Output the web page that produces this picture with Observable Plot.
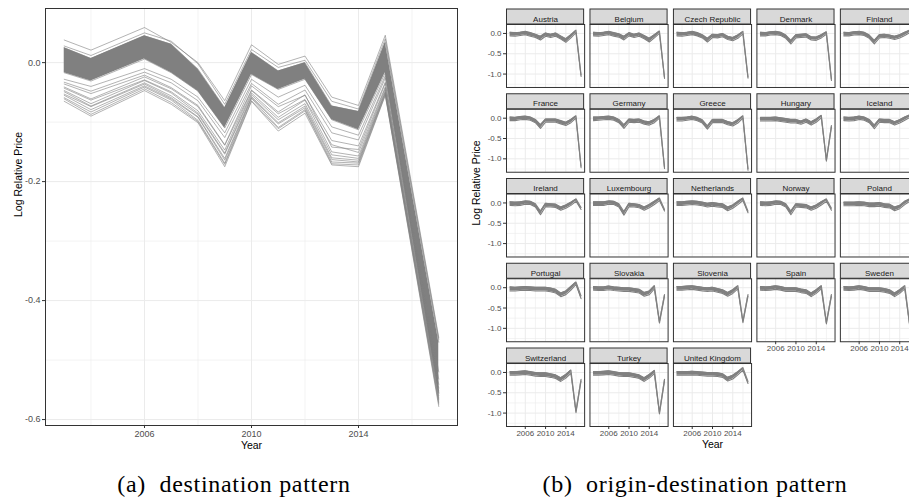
<!DOCTYPE html>
<html><head><meta charset="utf-8">
<script src="https://cdn.jsdelivr.net/npm/d3@7"></script>
<script src="https://cdn.jsdelivr.net/npm/@observablehq/plot@0.6"></script>
<style>
html,body{margin:0;padding:0;background:#fff;overflow:hidden;}
#wrap{position:relative;width:909px;height:501px;overflow:hidden;background:#fff;}
#left{position:absolute;left:0;top:0;width:460px;}
#right{position:absolute;left:460px;top:0;width:470px;}
#wrap svg{max-width:none !important;}
.cap{position:absolute;font-family:"Liberation Serif","Times New Roman",serif;font-size:24px;letter-spacing:0.7px;white-space:nowrap;transform:translateX(-50%);color:#000;line-height:26px;}
</style></head><body>
<div id="wrap"><div id="left"></div><div id="right"></div>
<div class="cap" style="left:234px;top:471px">(a)&nbsp; destination pattern</div>
<div class="cap" style="left:695px;top:471px">(b)&nbsp; origin-destination pattern</div>
</div>
<script>
// ---------- (a) destination pattern ----------
const destYears = [2003, 2004, 2006, 2007, 2008, 2009, 2010, 2011, 2012, 2013, 2014, 2015, 2017];
const destBandUpper = [0.025, 0.007, 0.045, 0.031, -0.011, -0.076, 0.017, -0.014, 0.000, -0.073, -0.082, 0.034, -0.470];
const destBandLower = [-0.017, -0.031, 0.006, -0.017, -0.048, -0.110, -0.020, -0.045, -0.028, -0.096, -0.113, -0.017, -0.555];
const destLines = [
  [0.038, 0.021, 0.059, 0.034, 0.000, -0.064, 0.030, -0.003, 0.011, -0.058, -0.072, 0.046, -0.462],
  [0.028, 0.012, 0.050, 0.036, -0.002, -0.070, 0.022, -0.008, 0.004, -0.065, -0.078, 0.040, -0.465],
  [-0.028, -0.040, -0.010, -0.028, -0.058, -0.118, -0.028, -0.058, -0.038, -0.108, -0.122, -0.022, -0.520],
  [-0.033, -0.048, -0.016, -0.034, -0.064, -0.126, -0.035, -0.070, -0.046, -0.118, -0.130, -0.026, -0.532],
  [-0.036, -0.052, -0.021, -0.042, -0.072, -0.138, -0.039, -0.074, -0.055, -0.131, -0.140, -0.033, -0.541],
  [-0.041, -0.061, -0.024, -0.044, -0.074, -0.139, -0.046, -0.083, -0.054, -0.142, -0.146, -0.035, -0.547],
  [-0.043, -0.063, -0.029, -0.049, -0.081, -0.147, -0.047, -0.086, -0.062, -0.138, -0.151, -0.041, -0.552],
  [-0.047, -0.069, -0.030, -0.051, -0.085, -0.152, -0.051, -0.092, -0.063, -0.150, -0.157, -0.043, -0.556],
  [-0.049, -0.073, -0.034, -0.056, -0.087, -0.154, -0.054, -0.096, -0.069, -0.155, -0.161, -0.046, -0.560],
  [-0.053, -0.074, -0.036, -0.059, -0.091, -0.161, -0.057, -0.101, -0.073, -0.160, -0.164, -0.049, -0.564],
  [-0.055, -0.079, -0.039, -0.061, -0.092, -0.164, -0.059, -0.103, -0.076, -0.163, -0.167, -0.050, -0.567],
  [-0.059, -0.083, -0.041, -0.063, -0.097, -0.169, -0.060, -0.109, -0.079, -0.167, -0.169, -0.052, -0.571],
  [-0.061, -0.087, -0.044, -0.067, -0.099, -0.171, -0.064, -0.111, -0.081, -0.170, -0.172, -0.054, -0.574],
  [-0.065, -0.090, -0.047, -0.070, -0.101, -0.175, -0.065, -0.115, -0.085, -0.172, -0.175, -0.055, -0.578]
];
const destXTicks = [2006, 2010, 2014];
const destXMinor = [2004, 2008, 2012, 2016];
const destYTicks = [0, -0.2, -0.4, -0.6];
const destYMinor = [-0.1, -0.3, -0.5];

// ---------- (b) origin-destination pattern ----------
const countries = ["Austria", "Belgium", "Czech Republic", "Denmark", "Finland",
  "France", "Germany", "Greece", "Hungary", "Iceland",
  "Ireland", "Luxembourg", "Netherlands", "Norway", "Poland",
  "Portugal", "Slovakia", "Slovenia", "Spain", "Sweden",
  "Switzerland", "Turkey", "United Kingdom"];
const odYears = [2003, 2004, 2005, 2006, 2007, 2008, 2009, 2010, 2011, 2012, 2013, 2014, 2015, 2016, 2017];
const odUpper = [
  [0.03, 0.02, 0.03, 0.05, 0.02, -0.02, -0.07, 0.01, -0.02, 0.01, -0.06, -0.13, -0.03, 0.08, -1.02],
  [0.03, 0.02, 0.03, 0.05, 0.02, -0.01, -0.07, 0.02, -0.02, 0.01, -0.05, -0.12, -0.03, 0.06, -1.08],
  [0.03, 0.02, 0.03, 0.05, 0.02, -0.03, -0.12, -0.02, -0.03, 0.00, -0.07, -0.10, -0.04, 0.05, -1.07],
  [0.03, 0.02, 0.04, 0.05, 0.03, -0.04, -0.17, -0.03, -0.02, -0.01, -0.08, -0.09, -0.03, 0.04, -1.12],
  [0.03, 0.02, 0.04, 0.05, 0.03, -0.04, -0.17, -0.03, -0.02, -0.04, -0.07, -0.03, 0.03, 0.08, -1.18],
  [0.03, 0.02, 0.04, 0.05, 0.03, -0.03, -0.16, -0.02, -0.02, -0.02, -0.06, -0.10, -0.03, 0.06, -1.18],
  [0.03, 0.03, 0.04, 0.05, 0.03, -0.03, -0.16, -0.02, -0.03, -0.02, -0.07, -0.09, -0.03, 0.06, -1.20],
  [0.02, 0.02, 0.03, 0.05, 0.02, -0.04, -0.19, -0.03, -0.03, -0.03, -0.08, -0.11, -0.04, 0.06, -1.24],
  [0.02, 0.02, 0.02, 0.03, 0.01, -0.01, -0.03, -0.03, -0.07, -0.02, -0.09, -0.02, 0.07, -1.02, -0.18],
  [0.03, 0.02, 0.03, 0.05, 0.03, -0.03, -0.17, -0.02, -0.03, -0.03, -0.09, -0.04, 0.03, 0.08, -1.20],
  [0.03, 0.02, 0.03, 0.05, 0.04, -0.02, -0.20, -0.01, -0.02, -0.03, -0.10, -0.05, 0.02, 0.10, -0.11],
  [0.03, 0.03, 0.03, 0.05, 0.04, -0.02, -0.21, -0.01, -0.02, -0.04, -0.10, -0.04, 0.04, 0.12, -0.16],
  [0.03, 0.03, 0.04, 0.05, 0.04, 0.02, -0.01, 0.01, -0.01, -0.02, -0.10, -0.05, 0.04, 0.12, -0.20],
  [0.03, 0.02, 0.03, 0.05, 0.04, -0.02, -0.20, -0.02, -0.03, -0.04, -0.10, -0.05, 0.03, 0.10, -0.13],
  [0.02, 0.02, 0.02, 0.03, 0.02, 0.00, 0.00, 0.01, -0.02, -0.03, -0.10, -0.06, 0.04, 0.10, -0.18],
  [0.02, 0.01, 0.02, 0.03, 0.02, 0.01, 0.01, 0.01, -0.01, -0.04, -0.13, -0.08, 0.03, 0.14, -0.20],
  [0.03, 0.02, 0.02, 0.04, 0.02, 0.01, 0.00, 0.00, -0.02, -0.04, -0.12, -0.08, 0.05, -0.83, -0.17],
  [0.03, 0.03, 0.04, 0.05, 0.03, 0.01, 0.00, 0.01, -0.02, -0.05, -0.12, -0.05, 0.05, -0.82, -0.17],
  [0.03, 0.02, 0.03, 0.05, 0.03, 0.00, 0.00, 0.00, -0.03, -0.05, -0.13, -0.05, 0.05, -0.85, -0.17],
  [0.03, 0.02, 0.03, 0.05, 0.03, 0.00, 0.00, 0.00, -0.02, -0.05, -0.13, -0.05, 0.05, -0.93, -0.18],
  [0.02, 0.02, 0.03, 0.04, 0.02, 0.00, -0.01, -0.01, -0.03, -0.06, -0.13, -0.05, 0.06, -0.95, -0.17],
  [0.02, 0.02, 0.03, 0.04, 0.02, 0.00, -0.01, -0.01, -0.03, -0.06, -0.13, -0.05, 0.05, -0.98, -0.17],
  [0.02, 0.02, 0.02, 0.03, 0.02, 0.01, 0.00, 0.00, -0.01, -0.03, -0.12, -0.07, 0.02, 0.12, -0.22]
];
const odLower = [
  [-0.06, -0.07, -0.05, -0.03, -0.07, -0.10, -0.16, -0.07, -0.10, -0.07, -0.14, -0.22, -0.11, 0.02, -1.06],
  [-0.06, -0.07, -0.05, -0.03, -0.07, -0.09, -0.16, -0.06, -0.10, -0.07, -0.13, -0.21, -0.11, 0.00, -1.11],
  [-0.06, -0.07, -0.05, -0.03, -0.06, -0.11, -0.21, -0.10, -0.11, -0.08, -0.15, -0.18, -0.12, -0.01, -1.10],
  [-0.06, -0.06, -0.04, -0.03, -0.05, -0.12, -0.26, -0.11, -0.10, -0.09, -0.16, -0.17, -0.11, -0.02, -1.16],
  [-0.06, -0.06, -0.04, -0.03, -0.05, -0.12, -0.26, -0.11, -0.10, -0.12, -0.15, -0.11, -0.05, 0.02, -1.22],
  [-0.06, -0.06, -0.04, -0.03, -0.05, -0.11, -0.25, -0.10, -0.10, -0.10, -0.14, -0.18, -0.11, 0.00, -1.22],
  [-0.06, -0.05, -0.04, -0.03, -0.05, -0.11, -0.25, -0.10, -0.11, -0.10, -0.15, -0.17, -0.11, 0.00, -1.24],
  [-0.07, -0.07, -0.05, -0.03, -0.06, -0.12, -0.27, -0.11, -0.11, -0.11, -0.16, -0.19, -0.12, 0.00, -1.28],
  [-0.07, -0.07, -0.07, -0.06, -0.08, -0.10, -0.12, -0.12, -0.15, -0.10, -0.17, -0.10, 0.01, -1.06, -0.22],
  [-0.06, -0.07, -0.06, -0.03, -0.05, -0.11, -0.26, -0.10, -0.11, -0.11, -0.17, -0.12, -0.05, 0.02, -1.24],
  [-0.06, -0.07, -0.06, -0.03, -0.04, -0.10, -0.29, -0.09, -0.10, -0.11, -0.18, -0.13, -0.06, 0.04, -0.16],
  [-0.06, -0.06, -0.06, -0.03, -0.04, -0.10, -0.30, -0.09, -0.10, -0.12, -0.18, -0.12, -0.04, 0.06, -0.20],
  [-0.06, -0.06, -0.05, -0.04, -0.05, -0.07, -0.10, -0.08, -0.10, -0.11, -0.19, -0.13, -0.04, 0.06, -0.24],
  [-0.06, -0.07, -0.06, -0.03, -0.04, -0.10, -0.29, -0.10, -0.11, -0.12, -0.18, -0.13, -0.05, 0.04, -0.18],
  [-0.07, -0.07, -0.07, -0.06, -0.07, -0.09, -0.09, -0.08, -0.11, -0.12, -0.19, -0.14, -0.04, 0.04, -0.22],
  [-0.08, -0.08, -0.07, -0.06, -0.07, -0.08, -0.08, -0.08, -0.10, -0.13, -0.22, -0.17, -0.06, 0.08, -0.27],
  [-0.06, -0.07, -0.07, -0.05, -0.07, -0.08, -0.09, -0.09, -0.11, -0.13, -0.21, -0.17, -0.03, -0.87, -0.21],
  [-0.06, -0.06, -0.05, -0.04, -0.06, -0.08, -0.09, -0.08, -0.11, -0.14, -0.21, -0.14, -0.03, -0.86, -0.21],
  [-0.06, -0.07, -0.06, -0.04, -0.06, -0.09, -0.09, -0.09, -0.12, -0.14, -0.22, -0.14, -0.03, -0.89, -0.21],
  [-0.06, -0.07, -0.06, -0.04, -0.06, -0.09, -0.09, -0.09, -0.11, -0.14, -0.22, -0.14, -0.03, -0.97, -0.22],
  [-0.07, -0.07, -0.06, -0.05, -0.07, -0.09, -0.10, -0.10, -0.12, -0.15, -0.22, -0.14, -0.02, -0.99, -0.21],
  [-0.07, -0.07, -0.06, -0.05, -0.07, -0.09, -0.10, -0.10, -0.12, -0.15, -0.22, -0.14, -0.03, -1.02, -0.21],
  [-0.07, -0.07, -0.07, -0.06, -0.07, -0.08, -0.09, -0.09, -0.10, -0.12, -0.21, -0.16, -0.06, 0.06, -0.27]
];
const odXTicks = [2006, 2010, 2014];
const odXMinor = [2004, 2008, 2012, 2016];
const odYTicks = [0, -0.5, -1.0];
const odYMinor = [-0.25, -0.75, -1.25];
const facetCols = 5;

// ---------- build tables ----------
const destData = [];
destLines.forEach((vals, i) => vals.forEach((v, j) => destData.push({id: i, year: destYears[j], value: v})));
const destBand = destYears.map((y, j) => ({year: y, lo: destBandLower[j], hi: destBandUpper[j]}));

const odData = [];
countries.forEach((c, i) => odYears.forEach((y, j) => odData.push({
  country: c, col: i % facetCols, row: Math.floor(i / facetCols), year: y, hi: odUpper[i][j], lo: odLower[i][j]
})));
const strips = countries.map((c, i) => ({country: c, col: i % facetCols, row: Math.floor(i / facetCols)}));

const GRID = "#ebebeb", LINE = "#808080", BORDER = "#333333", TICKTXT = "#4d4d4d";
const fmt1 = d => d.toFixed(1);
const font = "'Liberation Sans', Arial, Helvetica, sans-serif";

// ---------- left plot ----------
const destX = [2002.3, 2017.7], destY = [-0.61, 0.091];
const left = Plot.plot({
  width: 460, height: 455,
  marginLeft: 45, marginRight: 3, marginTop: 8, marginBottom: 30,
  style: {fontFamily: font, fontSize: "9px", color: TICKTXT, background: "white", overflow: "visible", maxWidth: "none"},
  x: {domain: destX},
  y: {domain: destY},
  marks: [
    Plot.gridX(destXMinor, {stroke: GRID, strokeOpacity: 1, strokeWidth: 0.6}),
    Plot.gridY(destYMinor, {stroke: GRID, strokeOpacity: 1, strokeWidth: 0.6}),
    Plot.gridX(destXTicks, {stroke: GRID, strokeOpacity: 1, strokeWidth: 1}),
    Plot.gridY(destYTicks, {stroke: GRID, strokeOpacity: 1, strokeWidth: 1}),
    Plot.areaY(destBand, {x: "year", y1: "lo", y2: "hi", fill: LINE}),
    Plot.lineY(destBand, {x: "year", y: "hi", stroke: LINE, strokeWidth: 0.6}),
    Plot.lineY(destBand, {x: "year", y: "lo", stroke: LINE, strokeWidth: 0.6}),
    Plot.lineY(destData, {x: "year", y: "value", z: "id", stroke: LINE, strokeWidth: 0.6}),
    Plot.frame({stroke: BORDER, strokeWidth: 1}),
    Plot.axisX(destXTicks, {tickFormat: d => String(d), tickSize: 3, tickPadding: 2, stroke: BORDER, label: null, fontSize: 9}),
    Plot.axisY(destYTicks, {tickFormat: fmt1, tickSize: 3, tickPadding: 2, stroke: BORDER, label: null, fontSize: 9}),
    Plot.text(["Year"], {frameAnchor: "bottom", dy: 23, fill: "#000", fontSize: 10.5}),
    Plot.text(["Log Relative Price"], {frameAnchor: "left", rotate: -90, dx: -27, fill: "#000", fontSize: 10.5})
  ]
});
document.getElementById("left").appendChild(left);

// ---------- right plot (facets) ----------
const odX = [2002.3, 2017.7], odY = [-1.33, 0.22];
const yTop = odY[1];
const right = Plot.plot({
  width: 458, height: 455,
  marginLeft: 46, marginRight: 0, marginTop: 24, marginBottom: 29,
  style: {fontFamily: font, fontSize: "8px", color: TICKTXT, background: "white", overflow: "visible", maxWidth: "none"},
  fx: {axis: null, domain: [0, 1, 2, 3, 4], paddingInner: 0.064, paddingOuter: 0, round: false},
  fy: {axis: null, domain: [0, 1, 2, 3, 4], paddingInner: 0.257, paddingOuter: 0, round: false},
  x: {domain: odX},
  y: {domain: odY},
  marks: [
    Plot.gridX(odXMinor, {stroke: GRID, strokeOpacity: 1, strokeWidth: 0.6}),
    Plot.gridY(odYMinor, {stroke: GRID, strokeOpacity: 1, strokeWidth: 0.6}),
    Plot.gridX(odXTicks, {stroke: GRID, strokeOpacity: 1, strokeWidth: 1}),
    Plot.gridY(odYTicks, {stroke: GRID, strokeOpacity: 1, strokeWidth: 1}),
    Plot.areaY(odData, {x: "year", y1: "lo", y2: "hi", fx: "col", fy: "row", fill: LINE}),
    Plot.lineY(odData, {x: "year", y: "hi", fx: "col", fy: "row", stroke: LINE, strokeWidth: 1.1}),
    Plot.lineY(odData, {x: "year", y: "lo", fx: "col", fy: "row", stroke: LINE, strokeWidth: 1.1}),
    Plot.frame({stroke: BORDER, strokeWidth: 1}),
    Plot.ruleY(strips, {y: d => yTop, fx: "col", fy: "row", stroke: BORDER, strokeWidth: 16, dy: -8}),
    Plot.ruleY(strips, {y: d => yTop, fx: "col", fy: "row", stroke: "#d9d9d9", strokeWidth: 14, dy: -8, insetLeft: 1, insetRight: 1}),
    Plot.text(strips, {text: "country", fx: "col", fy: "row", frameAnchor: "top", dy: -8.5, fill: "#1a1a1a", fontSize: 8}),
    Plot.axisX(odXTicks, {tickFormat: d => String(d), tickSize: 3, tickPadding: 1, stroke: BORDER, label: null, fontSize: 8, facetAnchor: "bottom-empty"}),
    Plot.axisY(odYTicks, {tickFormat: fmt1, tickSize: 3, tickPadding: 2, stroke: BORDER, label: null, fontSize: 8, facetAnchor: "left"}),
    Plot.text(["Year"], {frameAnchor: "bottom", dy: 21, fill: "#000", fontSize: 10.5, facet: "super"}),
    Plot.text(["Log Relative Price"], {frameAnchor: "left", rotate: -90, dx: -30, fill: "#000", fontSize: 10.5, facet: "super"})
  ]
});
document.getElementById("right").appendChild(right);
</script>
</body></html>
